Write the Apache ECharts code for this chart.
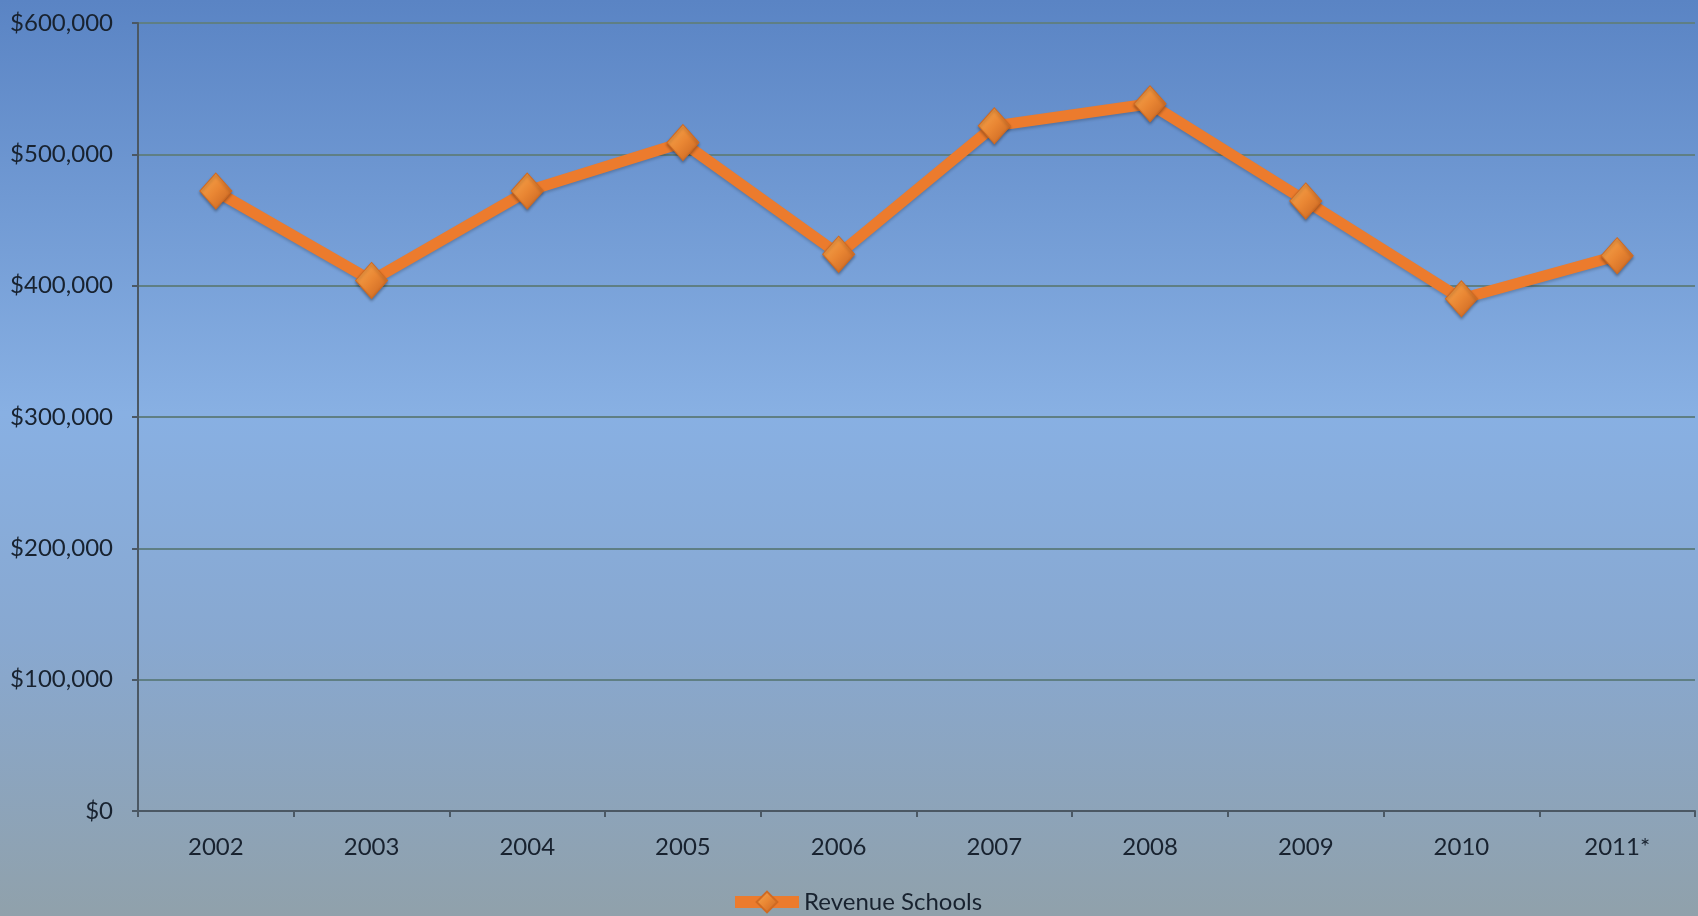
<!DOCTYPE html>
<html>
<head>
<meta charset="utf-8">
<script src="https://cdn.jsdelivr.net/npm/echarts@6/dist/echarts.min.js"></script>
<style>
html,body{margin:0;padding:0;width:1698px;height:916px;overflow:hidden;}
#chart{width:1698px;height:916px;}
</style>
</head>
<body>
<div id="chart"></div>
<script>
const categories = ['2002','2003','2004','2005','2006','2007','2008','2009','2010','2011*'];
const seriesName = 'Revenue Schools';
const revenue = [472000, 404000, 472000, 509000, 424000, 521700, 538500, 464500, 390000, 422800];
const yTicks = [0, 100000, 200000, 300000, 400000, 500000, 600000];

const chart = echarts.init(document.getElementById('chart'));
const fontFam = 'Lato, "Open Sans", sans-serif';
const textColor = '#18222f';
const markerFill = new echarts.graphic.LinearGradient(0, 0, 1, 1, [
  {offset: 0, color: '#f7ab52'},
  {offset: 0.5, color: '#e98633'},
  {offset: 1, color: '#c4601f'}
]);
chart.setOption({
  backgroundColor: new echarts.graphic.LinearGradient(0, 0, 0, 1, [
    {offset: 0, color: '#5a84c4'},
    {offset: 0.45, color: '#88b0e3'},
    {offset: 0.7, color: '#88a8d0'},
    {offset: 1, color: '#90a1ab'}
  ]),
  animation: false,
  textStyle: {fontFamily: fontFam},
  grid: {left: 138, right: 3, top: 23, bottom: 105, containLabel: false},
  legend: {
    data: [seriesName],
    left: 724, top: 885,
    itemWidth: 64, itemHeight: 26, itemGap: 2,
    lineStyle: {width: 12, color: '#ec7b2d'},
    textStyle: {fontSize: 24, color: textColor, fontFamily: fontFam}
  },
  xAxis: {
    type: 'category',
    data: categories,
    boundaryGap: true,
    axisLine: {lineStyle: {color: '#4b5864', width: 2}},
    axisTick: {show: true, length: 6, lineStyle: {color: '#4b5864', width: 2}},
    axisLabel: {fontSize: 24, color: textColor, margin: 24, fontFamily: fontFam}
  },
  yAxis: {
    type: 'value',
    min: yTicks[0], max: yTicks[yTicks.length - 1], interval: 100000,
    axisLine: {show: true, lineStyle: {color: '#4b5864', width: 2}},
    axisTick: {show: true, length: 6, lineStyle: {color: '#4b5864', width: 2}},
    splitLine: {show: true, lineStyle: {color: '#5f7f84', width: 2}},
    axisLabel: {
      fontSize: 24, color: textColor, margin: 25, fontFamily: fontFam,
      formatter: v => '$' + v.toLocaleString('en-US')
    }
  },
  series: [{
    name: seriesName,
    type: 'line',
    data: revenue,
    symbol: 'diamond',
    symbolSize: [32, 36],
    lineStyle: {color: '#ec7b2d', width: 11, shadowColor: 'rgba(0,0,0,0.2)', shadowBlur: 3, shadowOffsetY: 2},
    itemStyle: {color: markerFill, borderColor: '#d06a22', borderWidth: 1, shadowColor: 'rgba(0,0,0,0.3)', shadowBlur: 3, shadowOffsetY: 2},
    z: 3
  }]
});
</script>
</body>
</html>
